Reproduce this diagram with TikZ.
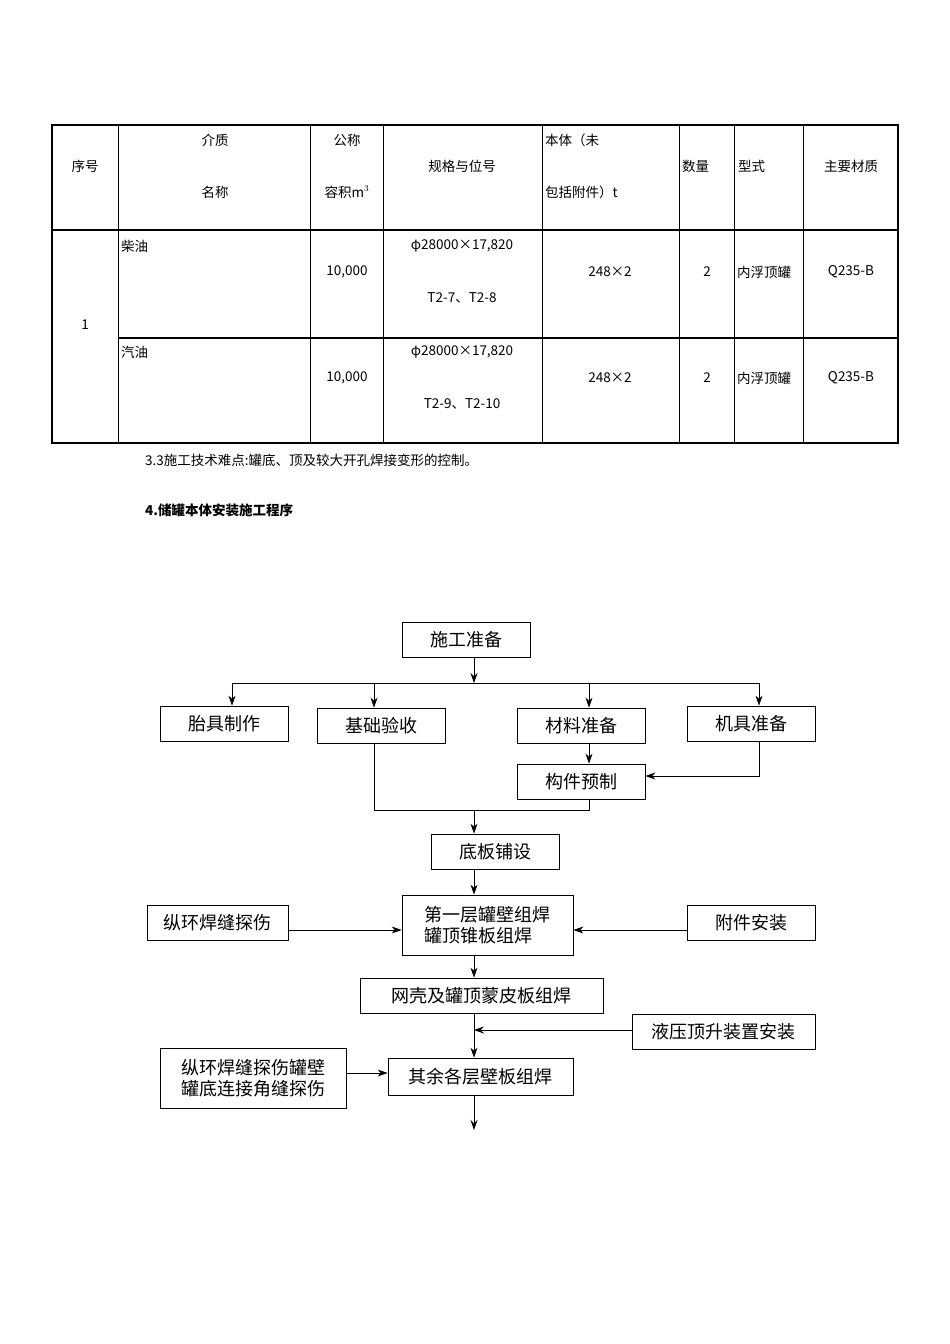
\documentclass[tikz,border=0pt]{standalone}
\usepackage{fontspec}
\setmainfont{Noto Sans CJK SC}
\usetikzlibrary{arrows.meta}
\begin{document}
\begin{tikzpicture}[x=1pt,y=-1pt,
  bx/.style={draw,line width=0.8pt,minimum height=35pt,inner sep=2pt,font=\fontsize{18}{21}\selectfont},
  tx/.style={font=\fontsize{13.5}{15}\selectfont,inner sep=0pt},
  arr/.style={-{Stealth[length=10pt,width=7pt]},line width=0.7pt},
  ln/.style={line width=0.7pt}]
\useasboundingbox (0,0) rectangle (950,1344);
% table
\draw[line width=1.6pt] (52,125) rectangle (898,443);
\foreach \x in {118,310,383,542,679,734,803} \draw[line width=1pt] (\x,125)--(\x,443);
\draw[line width=1.6pt] (52,230)--(898,230);
\draw[line width=1.6pt] (118,338)--(898,338);
\node[tx] (h1) at (85,166) {序号};
\node[tx] (h2a) at (215,140) {介质};
\node[tx] (h2b) at (215,192) {名称};
\node[tx] (h3a) at (347,140) {公称};
\node[tx] (h3b) at (347,192) {容积m$^3$};
\node[tx] (h4) at (462,166) {规格与位号};
\node[tx,anchor=west] (h5a) at (545,140) {本体（未};
\node[tx,anchor=west] (h5b) at (545,192) {包括附件）t};
\node[tx,anchor=west] (h6) at (682,166) {数量};
\node[tx,anchor=west] (h7) at (738,166) {型式};
\node[tx] (h8) at (851,166) {主要材质};
\node[tx] (n1) at (85,325) {1};
\foreach \y/\nm/\tt [count=\i] in {246/柴油/T2-7、T2-8,352/汽油/T2-9、T2-10}{
  \node[tx,anchor=west] (m\i) at (121,\y) {\nm};
  \node[tx] (v\i) at (347,\y+26) {10,000};
  \node[tx] (s\i) at (462,\y) {φ28000×17,820};
  \node[tx] (t\i) at (462,\y+52) {\tt};
  \node[tx] (w\i) at (610,\y+26) {248×2};
  \node[tx] (q\i) at (707,\y+26) {2};
  \node[tx,anchor=west] (k\i) at (737,\y+26) {内浮顶罐};
  \node[tx] (c\i) at (851,\y+26) {Q235-B};
}
\node[tx,anchor=west] (p33) at (145,460) {3.3施工技术难点:罐底、顶及较大开孔焊接变形的控制。};
\node[tx,anchor=west,font=\bfseries\fontsize{13.5}{15}\selectfont] (p4) at (145,510) {4.储罐本体安装施工程序};
% flowchart
\node[bx,minimum width=128pt] (a) at (466,639.5) {施工准备};
\node[bx,minimum width=128pt] (b1) at (224,723.5) {胎具制作};
\node[bx,minimum width=128pt] (b2) at (381,725.5) {基础验收};
\node[bx,minimum width=128pt] (b3) at (581,725.5) {材料准备};
\node[bx,minimum width=128pt] (b4) at (751,723.5) {机具准备};
\node[bx,minimum width=128pt] (c) at (581,781.5) {构件预制};
\node[bx,minimum width=128pt] (d) at (495,851.5) {底板铺设};
\node[bx,minimum width=171pt,minimum height=60pt,align=left] (e) at (487.5,925) {第一层罐壁组焊\\罐顶锥板组焊};
\node[bx,minimum width=141pt] (l1) at (217.5,923) {纵环焊缝探伤};
\node[bx,minimum width=128pt] (r1) at (751,923) {附件安装};
\node[bx,minimum width=243pt] (f) at (481.5,995.5) {网壳及罐顶蒙皮板组焊};
\node[bx,minimum width=183pt] (r2) at (723.5,1031.5) {液压顶升装置安装};
\node[bx,minimum width=186pt,minimum height=60pt,align=left] (l2) at (253,1078) {纵环焊缝探伤罐壁\\罐底连接角缝探伤};
\node[bx,minimum width=185pt,minimum height=37pt] (g) at (480.5,1076.5) {其余各层壁板组焊};
\coordinate (br) at (474,683);
\coordinate (mg) at (474,810);
\coordinate (jn) at (474,1030);
\coordinate (end) at (474,1130);
\draw[arr] (a.south -| br) -- (br);
\draw[ln] (232,683) -- (759,683);
\draw[arr] (232,683) -- (b1.north -| 232,0);
\draw[arr] (374,683) -- (b2.north -| 374,0);
\draw[arr] (589,683) -- (b3.north -| 589,0);
\draw[arr] (759,683) -- (b4.north -| 759,0);
\draw[arr] (b3.south -| 589,0) -- (c.north -| 589,0);
\draw[arr] (b4.south -| 759,0) |- (c.east |- 0,776);
\draw[ln] (b2.south -| 374,0) -- (374,810) -- (589,810) -- (c.south -| 589,0);
\draw[arr] (mg) -- (d.north -| mg);
\draw[arr] (d.south -| mg) -- (e.north -| mg);
\draw[arr] (l1.east |- 0,930) -- (e.west |- 0,930);
\draw[arr] (r1.west |- 0,930) -- (e.east |- 0,930);
\draw[arr] (e.south -| mg) -- (f.north -| mg);
\draw[arr] (f.south -| mg) -- (g.north -| mg);
\draw[arr] (r2.west |- jn) -- (jn);
\draw[arr] (l2.east |- 0,1073) -- (g.west |- 0,1073);
\draw[arr] (g.south -| end) -- (end);
\end{tikzpicture}
\end{document}
